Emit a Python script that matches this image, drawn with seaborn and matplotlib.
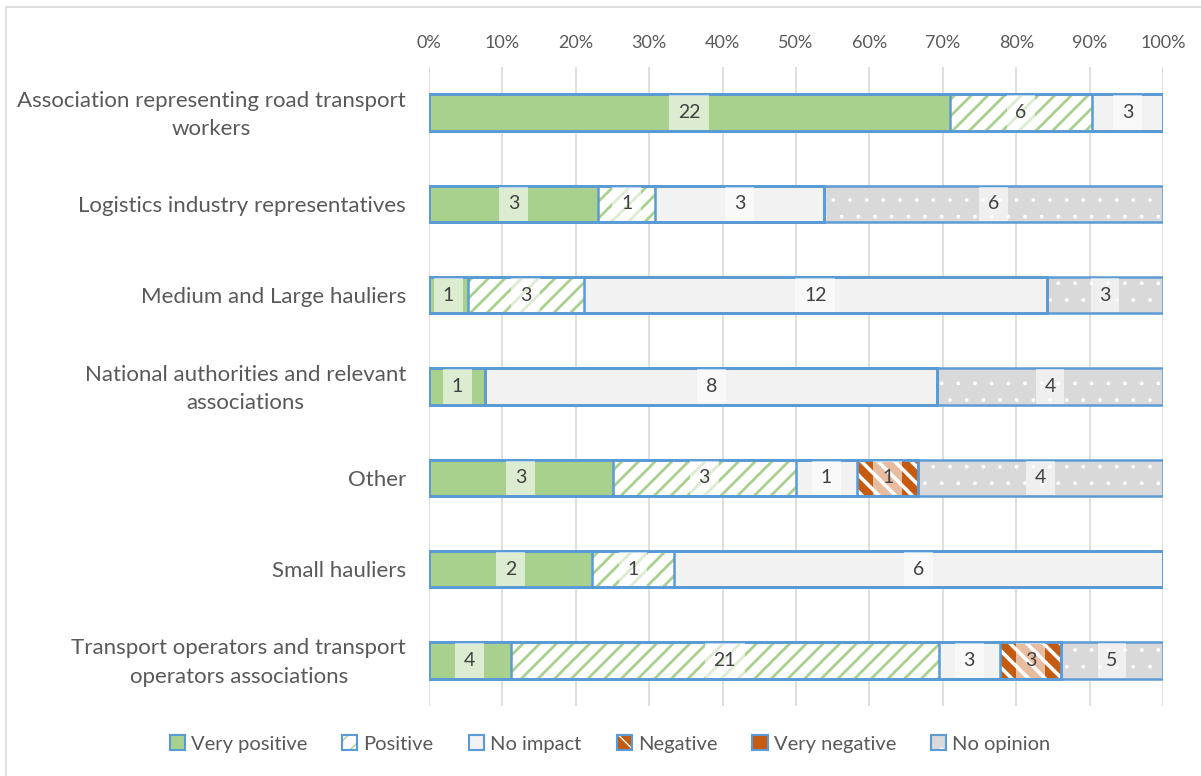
import matplotlib
matplotlib.use("Agg")
import matplotlib.pyplot as plt
import matplotlib.transforms as mtransforms
import seaborn as sns
import pandas as pd
import numpy as np
from matplotlib.patches import Patch, Rectangle
from matplotlib.legend_handler import HandlerTuple

# ---------------- data ----------------
categories = [
    "Association representing road transport\nworkers",
    "Logistics industry representatives",
    "Medium and Large hauliers",
    "National authorities and relevant\nassociations",
    "Other",
    "Small hauliers",
    "Transport operators and transport\noperators associations",
]
series_names = ["Very positive", "Positive", "No impact", "Negative", "Very negative", "No opinion"]
very_positive = [22, 3, 1, 1, 3, 2, 4]
positive = [6, 1, 3, 0, 3, 1, 21]
no_impact = [3, 3, 12, 8, 1, 6, 3]
negative = [0, 0, 0, 0, 1, 0, 3]
very_negative = [0, 0, 0, 0, 0, 0, 0]
no_opinion = [0, 6, 3, 4, 4, 0, 5]
x_tick_values = [0, 10, 20, 30, 40, 50, 60, 70, 80, 90, 100]
x_tick_labels = [f"{v}%" for v in x_tick_values]

# ---------------- styles ----------------
styles = {
    "Very positive": dict(face="#A9D18E", hatch=None, hc="#A9D18E", hlw=1.0),
    "Positive": dict(face="#FFFFFF", hatch="//", hc="#A9D18E", hlw=2.0),
    "No impact": dict(face="#F2F2F2", hatch=None, hc="#F2F2F2", hlw=1.0),
    "Negative": dict(face="#C55A11", hatch="\\\\", hc="#FFFFFF", hlw=2.6),
    "Very negative": dict(face="#C55A11", hatch=None, hc="#C55A11", hlw=1.0),
    "No opinion": dict(face="#D9D9D9", hatch=".", hc="#FFFFFF", hlw=0.3),
}
BLUE = "#5B9BD5"
TEXT = "#595959"

sns.set_theme(style="white")
FONT = ["Lato", "DejaVu Sans"]
plt.rcParams["font.family"] = FONT

counts = np.array([very_positive, positive, no_impact, negative, very_negative, no_opinion], dtype=float).T
totals = counts.sum(axis=1, keepdims=True)
pct = counts / totals * 100.0
cum = np.cumsum(pct, axis=1)

fig = plt.figure(figsize=(12.01, 7.76), dpi=100)
ax = fig.add_axes([429 / 1201, 1 - 706 / 776, (1163 - 429) / 1201, (706 - 67) / 776])

BAR_W = 0.4
for i in reversed(range(len(series_names))):
    name = series_names[i]
    st = styles[name]
    df = pd.DataFrame({"category": categories, "value": cum[:, i]})
    n_before = len(ax.patches)
    with plt.rc_context({"hatch.linewidth": st["hlw"]}):
        sns.barplot(data=df, x="value", y="category", orient="y", order=categories,
                    color=st["face"], saturation=1, width=BAR_W, hatch=st["hatch"],
                    edgecolor=st["hc"], linewidth=0, ax=ax, zorder=2)
    for p in ax.patches[n_before:]:
        if hasattr(p, "set_hatch_linewidth"):
            p.set_hatch_linewidth(st["hlw"])
    sns.barplot(data=df, x="value", y="category", orient="y", order=categories,
                color=BLUE, fill=False, saturation=1, width=BAR_W,
                linewidth=1.8, ax=ax, zorder=3)

# data labels
for j in range(len(categories)):
    left = 0.0
    for i in range(len(series_names)):
        w = pct[j, i]
        if counts[j, i] > 0:
            ax.text(left + w / 2, j, f"{int(counts[j, i])}", ha="center", va="center",
                    fontsize=14, color="#404040", zorder=5,
                    bbox=dict(boxstyle="square,pad=0.45", fc="white", alpha=0.6, ec="none"))
        left += w

ax.set_xlim(0, 100)
ax.set_ylim(len(categories) - 0.5, -0.5)
ax.set_xticks(x_tick_values)
ax.set_xticklabels(x_tick_labels)
ax.xaxis.tick_top()
ax.tick_params(axis="x", length=0, pad=11.5, labelsize=13, labelcolor=TEXT)
ax.tick_params(axis="y", length=0, pad=16.5, labelsize=16, labelcolor=TEXT)
shift_up = mtransforms.ScaledTranslation(0, 4 / 100, fig.dpi_scale_trans)
for lab in ax.get_yticklabels():
    lab.set_multialignment("center")
    lab.set_linespacing(1.55)
    if "\n" in lab.get_text():
        lab.set_transform(lab.get_transform() + shift_up)
ax.set_xlabel("")
ax.set_ylabel("")
for s in ax.spines.values():
    s.set_visible(False)
ax.grid(axis="x", color="#D9D9D9", linewidth=1.2, zorder=0)
ax.grid(axis="y", visible=False)
ax.set_axisbelow(True)

# legend
handles = []
for name in series_names:
    st = styles[name]
    with plt.rc_context({"hatch.linewidth": min(st["hlw"], 1.5)}):
        fillp = Patch(facecolor=st["face"], hatch=st["hatch"], edgecolor=st["hc"], linewidth=0)
    edgep = Patch(facecolor="none", edgecolor=BLUE, linewidth=1.5)
    handles.append((fillp, edgep))
fig.legend(handles, series_names, loc="center", bbox_to_anchor=(0.508, 0.041), ncol=6,
           frameon=False, handler_map={tuple: HandlerTuple(ndivide=1, pad=0)},
           handlelength=0.75, handleheight=0.75, handletextpad=0.3, columnspacing=1.75,
           prop={"family": FONT, "size": 14.5}, labelcolor=TEXT)

# outer border
fig.patches.append(Rectangle((6 / 1201, -0.02), 1.1, 1 - 7 / 776 + 0.02, transform=fig.transFigure,
                             fill=False, edgecolor="#D9D9D9", linewidth=1.2))

fig.savefig("out.png", dpi=100)
